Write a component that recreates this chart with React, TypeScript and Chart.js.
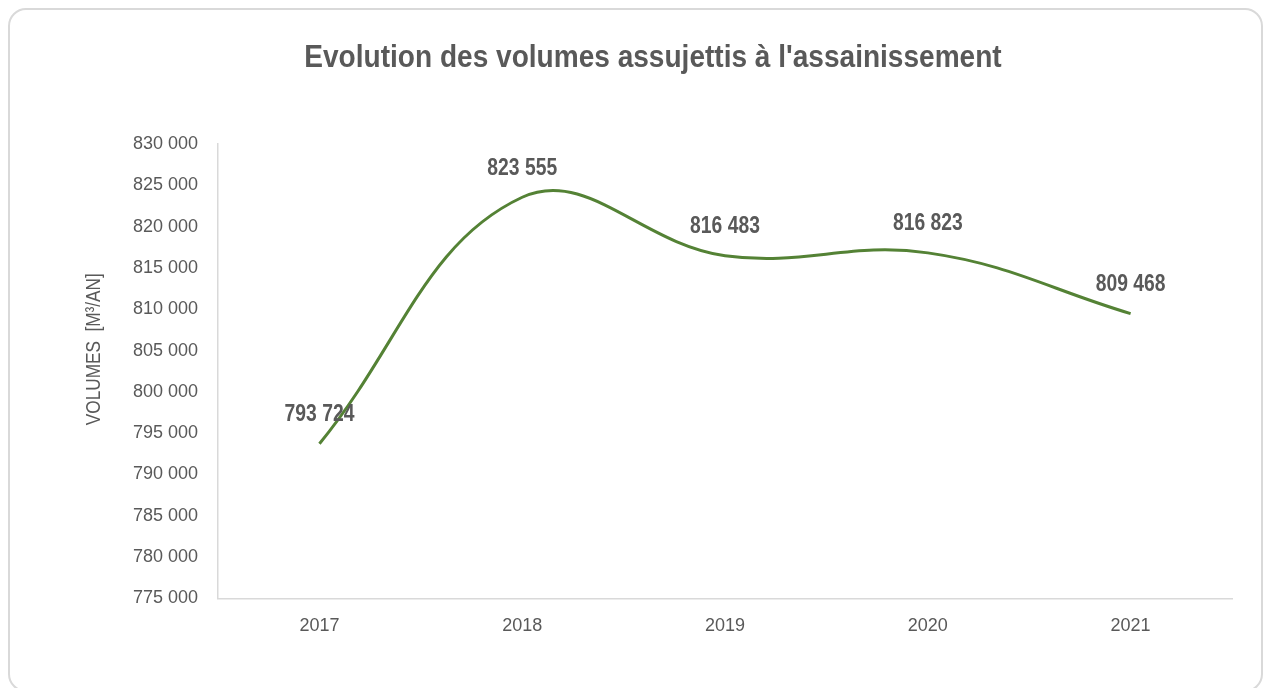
import React, { useEffect, useRef } from "react";
import { Chart, registerables } from "chart.js";

Chart.register(...registerables);

const categories = ["2017", "2018", "2019", "2020", "2021"];
const volumes = [793724, 823555, 816483, 816823, 809468];
const yMin = 775000;
const yMax = 830000;
const yStep = 5000;

const titleText = "Evolution des volumes assujettis à l'assainissement";
const yTitleText = "VOLUMES  [M³/AN]";

const FONT = "'Liberation Sans', Arial, sans-serif";
const TEXT = "#595959";
const LINE = "#548235";
const AXIS = "#d9d9d9";

const fmt = (v: number) => {
  const s = Math.round(v).toString();
  return s.replace(/\B(?=(\d{3})+(?!\d))/g, " ");
};

const drawCondensed = (ctx: any, text: string, x: number, y: number, k: number, rot = 0) => {
  ctx.save();
  ctx.translate(x, y);
  if (rot) ctx.rotate(rot);
  ctx.scale(k, 1);
  ctx.fillText(text, 0, 0);
  ctx.restore();
};

const decorPlugin = {
  id: "decor",
  afterDraw(chart: any) {
    const ctx = chart.ctx;
    const area = chart.chartArea;
    ctx.save();
    ctx.fillStyle = TEXT;
    ctx.textAlign = "center";
    ctx.textBaseline = "middle";
    // title
    ctx.font = `bold 31px ${FONT}`;
    drawCondensed(ctx, titleText, 643, 48, 0.905);
    // y axis title
    ctx.font = `20px ${FONT}`;
    drawCondensed(ctx, yTitleText, area.left - 124, (area.top + area.bottom) / 2 - 22, 0.86, -Math.PI / 2);
    // data labels
    const meta = chart.getDatasetMeta(0);
    ctx.font = `bold 23px ${FONT}`;
    meta.data.forEach((pt: any, i: number) => {
      drawCondensed(ctx, fmt(volumes[i]), pt.x, pt.y - 29, 0.84);
    });
    ctx.restore();
  },
};

export default function App() {
  const ref = useRef<HTMLCanvasElement | null>(null);
  useEffect(() => {
    if (!ref.current) return;
    const chart = new Chart(ref.current, {
      type: "line",
      data: {
        labels: categories,
        datasets: [
          {
            data: volumes,
            borderColor: LINE,
            borderWidth: 3,
            tension: 0.4,
            pointRadius: 0,
            fill: false,
          },
        ],
      },
      options: {
        animation: false,
        responsive: false,
        layout: { padding: { left: 103, right: 29, top: 134, bottom: 36 } },
        plugins: {
          legend: { display: false },
          title: { display: false },
          tooltip: { enabled: false },
        },
        scales: {
          x: {
            offset: true,
            grid: { display: false, drawTicks: false },
            border: { display: true, color: AXIS, width: 1.5 },
            ticks: { color: TEXT, font: { family: FONT, size: 18 }, padding: 17, maxRotation: 0 },
          },
          y: {
            min: yMin,
            max: yMax,
            grid: { display: false, drawTicks: false },
            border: { display: true, color: AXIS, width: 1.5 },
            ticks: {
              stepSize: yStep,
              color: TEXT,
              font: { family: FONT, size: 18 },
              padding: 20,
              callback: (v: any) => fmt(Number(v)),
            },
          },
        },
      },
      plugins: [decorPlugin],
    });
    return () => chart.destroy();
  }, []);
  return (
    <div style={{ position: "fixed", inset: 0, overflow: "hidden", background: "#fff" }}>
      <div
        style={{
          position: "absolute",
          left: 8,
          top: 8,
          width: 1255,
          height: 684,
          border: `2px solid ${AXIS}`,
          borderRadius: 18,
          boxSizing: "border-box",
        }}
      >
        <canvas ref={ref} width={1251} height={680} style={{ position: "absolute", left: 0, top: 0 }} />
      </div>
    </div>
  );
}
